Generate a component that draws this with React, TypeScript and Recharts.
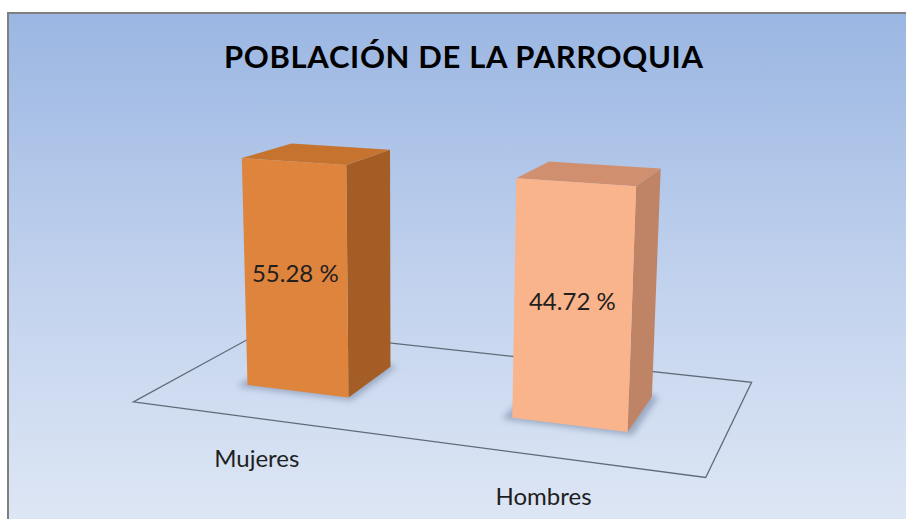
import React from 'react';
import { BarChart, Bar, XAxis, YAxis, LabelList } from 'recharts';

// datos del gráfico
const categories = ['Mujeres', 'Hombres'];
const percentages = [55.28, 44.72];

const data = categories.map((name, i) => ({ name, value: percentages[i] }));

// colores de las caras de cada barra
const FRONT_COLORS = ['#DF843D', '#FAB48C'];
const SIDE_COLORS = ['#A35D25', '#BF8465'];
const TOP_COLORS = ['#C6732F', '#D0906F'];

// proyección en perspectiva (3 puntos de fuga)
const ORIGIN = { x: 433, y: 408 };
const VP_H = { x: -3678, y: -101 };
const VP_V = { x: 407, y: 6770 };
const VP_D = { x: 960, y: -50 };
const KH = 1 / (VP_H.x - ORIGIN.x);
const KV = -1 / (VP_V.y - ORIGIN.y);
const KD = 1 / 1433;

const FLOOR = { left: -270, right: 270, front: -85.5, back: 190 };

const project = (X: number, Y: number, Z: number) => {
  const hx = X * KH * VP_H.x + Y * KV * VP_V.x + Z * KD * VP_D.x + ORIGIN.x;
  const hy = X * KH * VP_H.y + Y * KV * VP_V.y + Z * KD * VP_D.y + ORIGIN.y;
  const w = X * KH + Y * KV + Z * KD + 1;
  return [hx / w, hy / w];
};

const pts = (list: number[][]) =>
  list.map(([X, Y, Z]) => project(X, Y, Z).map((n) => n.toFixed(1)).join(',')).join(' ');

const Box3D = (props: any) => {
  const { x, width, height, index } = props;
  const x0 = x - ORIGIN.x;
  const x1 = x + width - ORIGIN.x;
  const top = height;
  const depth = width;
  return (
    <g>
      <polygon
        points={pts([[x0 - 8, 0, -7], [x1 + 6, 0, -7], [x1 + 6, 0, depth + 4], [x0 - 8, 0, depth + 4]])}
        fill="#6d7f9c"
        opacity={0.55}
        filter="url(#barShadow)"
      />
      <polygon points={pts([[x1, 0, 0], [x1, 0, depth], [x1, top, depth], [x1, top, 0]])} fill={SIDE_COLORS[index]} />
      <polygon points={pts([[x0, top, 0], [x1, top, 0], [x1, top, depth], [x0, top, depth]])} fill={TOP_COLORS[index]} />
      <polygon points={pts([[x0, 0, 0], [x1, 0, 0], [x1, top, 0], [x0, top, 0]])} fill={FRONT_COLORS[index]} />
    </g>
  );
};

const ValueLabel = (props: any) => {
  const { x, width, height, value } = props;
  const [cx, cy] = project(x + width / 2 - ORIGIN.x, height * 0.52, 0);
  return (
    <text x={cx} y={cy + 8.6} textAnchor="middle" fontFamily="Lato" fontSize={24} fill="#231f20">
      {`${Number(value).toFixed(2)} %`}
    </text>
  );
};

const CategoryTick = (props: any) => {
  const { x, payload } = props;
  const [cx, cy] = project(x - ORIGIN.x, 0, FLOOR.front);
  return (
    <text x={cx} y={cy + 49} textAnchor="middle" fontFamily="Lato" fontSize={24} fill="#1f1f1f">
      {payload.value}
    </text>
  );
};

const Background = () => {
  const floor = pts([
    [FLOOR.left, 0, FLOOR.front],
    [FLOOR.right, 0, FLOOR.front],
    [FLOOR.right, 0, FLOOR.back],
    [FLOOR.left, 0, FLOOR.back],
  ]);
  return (
    <svg width={906} height={519} style={{ position: 'absolute', left: 0, top: 0 }}>
      <defs>
        <linearGradient id="bgGrad" x1="0" y1="0" x2="0" y2="1">
          <stop offset="0" stopColor="#9ab6e2" />
          <stop offset="0.55" stopColor="#c3d3ee" />
          <stop offset="1" stopColor="#dde6f4" />
        </linearGradient>
        <filter id="barShadow" x="-20%" y="-20%" width="140%" height="140%">
          <feGaussianBlur stdDeviation="3" />
        </filter>
      </defs>
      <rect x={0} y={0} width={906} height={519} fill="#ffffff" />
      <rect x={7} y={12} width={899} height={507} fill="url(#bgGrad)" />
      <line x1={7} y1={13} x2={906} y2={13} stroke="#7f7f7f" strokeWidth={2} />
      <line x1={8} y1={12} x2={8} y2={519} stroke="#7f7f7f" strokeWidth={2} />
      <polygon points={floor} fill="none" stroke="#5f6b78" strokeWidth={1.3} />
      <text
        x={463.5}
        y={68}
        textAnchor="middle"
        fontFamily="Lato"
        fontWeight={700}
        fontSize={31}
        fill="#000000"
        textLength={479}
        lengthAdjust="spacing"
      >
        POBLACIÓN DE LA PARROQUIA
      </text>
    </svg>
  );
};

const App = () => {
  return (
    <div style={{ position: 'absolute', left: 0, top: 0, width: 906, height: 519 }}>
      <Background />
      <div style={{ position: 'absolute', left: 0, top: 0 }}>
        <BarChart width={906} height={519} data={data} margin={{ top: 165.8, right: 205.1, bottom: 99, left: 156.7 }}>
          <XAxis dataKey="name" axisLine={false} tickLine={false} height={20} tick={(p: any) => <CategoryTick {...p} />} />
          <YAxis hide type="number" scale="log" domain={[1e-9, 100]} />
          <Bar dataKey="value" barSize={108} shape={(p: any) => <Box3D {...p} />} isAnimationActive={false}>
            <LabelList dataKey="value" content={(p: any) => <ValueLabel {...p} />} />
          </Bar>
        </BarChart>
      </div>
    </div>
  );
};

export default App;
